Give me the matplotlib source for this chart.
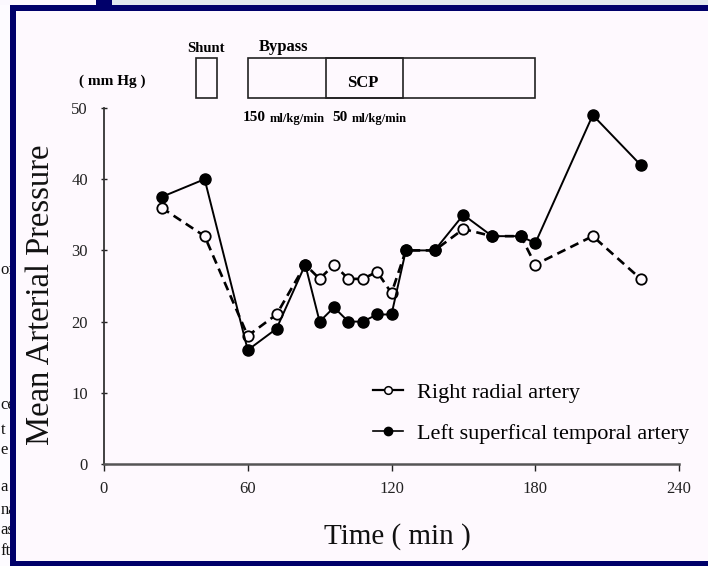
import matplotlib
matplotlib.use("Agg")
import matplotlib.pyplot as plt
from matplotlib.patches import Rectangle
from matplotlib.lines import Line2D

# ---------------- data ----------------
time_min = [24, 42, 60, 72, 84, 90, 96, 102, 108, 114, 120, 126, 138, 150, 162, 174, 180, 204, 224]
right_radial = [36, 32, 18, 21, 28, 26, 28, 26, 26, 27, 24, 30, 30, 33, 32, 32, 28, 32, 26]
left_temporal = [37.5, 40, 16, 19, 28, 20, 22, 20, 20, 21, 21, 30, 30, 35, 32, 32, 31, 49, 42]

series_labels = ["Right radial artery", "Left superfical temporal artery"]
x_ticks = [0, 60, 120, 180, 240]
y_ticks = [0, 10, 20, 30, 40, 50]

phase_names = ["Shunt", "Bypass", "SCP"]
phase_start = [38.5, 60, 92.5]
phase_end = [47, 180, 125]
flow_values = ["150", "50"]
flow_start = [57.8, 95.3]
flow_unit = "ml/kg/min"

# ---------------- styling ----------------
W, H = 708, 566
NAVY = "#00006a"
BG = "#fef9fe"
SERIF = ["Liberation Serif", "DejaVu Serif"]
plt.rcParams["font.family"] = SERIF

fig = plt.figure(figsize=(W / 100, H / 100), dpi=100, facecolor=BG)


def fx(px):
    return px / W


def fy(py):
    return 1 - py / H


def frect(x0, y0, x1, y1, color, z=10):
    fig.patches.append(Rectangle((fx(x0), fy(y1)), fx(x1) - fx(x0), (y1 - y0) / H,
                                 transform=fig.transFigure, facecolor=color,
                                 edgecolor="none", zorder=z))

frect(0, 0, 10, H, "#fdfbff", z=2)
frect(0, 0, 96, 5, "#fbf8fe", z=2)
frect(112, 0, W, 5, "#e2e9ee", z=2)
frect(96, 0, 112, 10, NAVY)
frect(10, 5, W, 11, NAVY)
frect(10, 5, 16, H, NAVY)
frect(10, 561, W, H, NAVY)

# fragments of the underlying page text on the left (partly hidden by the frame)
for txt, py in [("of", 270), ("ce", 405), ("t", 430), ("e", 450), ("a", 487),
                ("na", 510), ("as", 530), ("ft", 551)]:
    fig.text(fx(0.5), fy(py), txt, ha="left", va="center", fontsize=12,
             color="#111111", zorder=5)

# axes
ax = fig.add_axes([fx(104), fy(464), fx(679) - fx(104), (464 - 108) / H])
ax.set_facecolor("none")
ax.set_xlim(0, 240)
ax.set_ylim(0, 50)

ax.plot(time_min, right_radial, color="black", lw=1.9, dashes=(3.4, 2.1),
        marker="o", markersize=7.5, markerfacecolor=BG, markeredgecolor="black",
        markeredgewidth=1.3, clip_on=False, zorder=3)
ax.plot(time_min, left_temporal, color="black", lw=1.4, linestyle="-",
        marker="o", markersize=8, markerfacecolor="black", markeredgecolor="black",
        clip_on=False, zorder=4)

for s in ["top", "right"]:
    ax.spines[s].set_visible(False)
ax.spines["left"].set_bounds(0, 50)
ax.spines["bottom"].set_bounds(0, 240)
ax.spines["left"].set_color("#333333")
ax.spines["bottom"].set_color("#555555")
ax.spines["left"].set_linewidth(1.3)
ax.spines["bottom"].set_linewidth(1.8)

ax.set_xticks(x_ticks)
ax.set_yticks(y_ticks)
ax.tick_params(axis="y", direction="inout", length=5, width=1, pad=9,
               labelsize=12, colors="#222222")
ax.tick_params(axis="x", direction="out", length=5, width=1, pad=7,
               labelsize=12, colors="#222222")

ax.set_ylabel("Mean Arterial Pressure", fontsize=23.5, color="#111111")
ax.yaxis.set_label_coords(-0.083, 0.475)
ax.set_xlabel("Time ( min )", fontsize=21, color="#111111")
ax.xaxis.set_label_coords(0.511, -0.165)

# phase boxes above the plot
box_lo, box_hi = 51.4, 57.0
for name, a, b in zip(phase_names, phase_start, phase_end):
    ax.add_patch(Rectangle((a, box_lo), b - a, box_hi - box_lo, facecolor="none",
                           edgecolor="#222222", lw=1.2, clip_on=False))
ax.text((phase_start[0] + phase_end[0]) / 2, 58.4, phase_names[0], ha="center",
        va="center", fontsize=10.5, fontweight="bold", clip_on=False)
ax.text(phase_start[1] + 4.5, 58.6, phase_names[1], ha="left",
        va="center", fontsize=12, fontweight="bold", clip_on=False)
ax.text(107.8, 53.5, phase_names[2], ha="center", va="center", fontsize=12,
        fontweight="bold", clip_on=False)
ax.text(3.3, 53.7, "( mm Hg )", ha="center", va="center",
        fontsize=11, fontweight="bold", clip_on=False)

for val, x0 in zip(flow_values, flow_start):
    ax.annotate(val, (x0, 48.6), ha="left", va="center", fontsize=11,
                fontweight="bold", annotation_clip=False)
    ax.annotate(flow_unit, (x0, 48.6), xytext=(len(val) * 5.6 + 2.5, -0.5),
                textcoords="offset points", ha="left", va="center", fontsize=9,
                fontweight="bold", annotation_clip=False)

# legend
handles = [
    Line2D([], [], color="black", lw=1.6, marker="o", markersize=5.5,
           markerfacecolor=BG, markeredgecolor="black", markeredgewidth=1.1),
    Line2D([], [], color="black", lw=1.2, marker="o", markersize=6,
           markerfacecolor="black"),
]
ax.legend(handles, series_labels, loc="upper left", frameon=False,
          bbox_to_anchor=(fx(373), fy(382)), bbox_transform=fig.transFigure,
          fontsize=16, handlelength=1.35, handletextpad=0.65, labelspacing=0.92,
          borderpad=0, borderaxespad=0)

fig.savefig("out.png", dpi=100, facecolor=BG)
